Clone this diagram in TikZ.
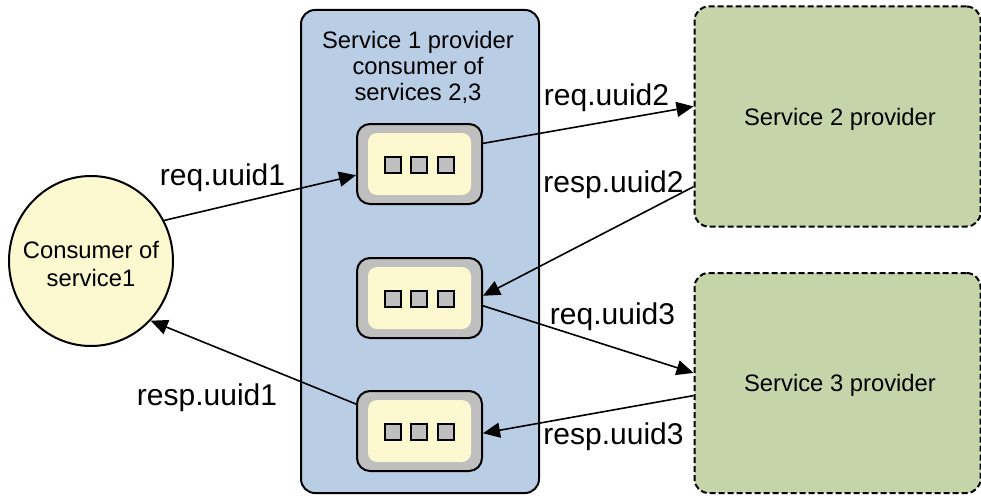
\documentclass[tikz,border=0pt]{standalone}
\usepackage{fontspec}
\setmainfont{Liberation Sans}
\usetikzlibrary{calc,arrows.meta,positioning,shapes.geometric}
\definecolor{provblue}{HTML}{B9CDE5}
\definecolor{provgreen}{HTML}{C5D5A9}
\definecolor{lightyellow}{HTML}{FCF8CF}
\definecolor{queuegray}{HTML}{BFBFBF}
\tikzstyle{flow}=[-{Triangle[length=17pt,width=15pt]},line width=1.6pt]
\tikzstyle{msg}=[inner sep=0,font=\fontsize{30}{33}\selectfont]
\tikzstyle{txt}=[inner sep=0,align=center,font=\fontsize{23.8}{26}\selectfont]
\tikzstyle{remote}=[draw,dash pattern=on 6pt off 3pt,line width=2pt,rounded corners=14pt,fill=provgreen,minimum width=286pt,minimum height=220pt]

\begin{document}
\begin{tikzpicture}[
    x=1pt,y=-1pt,
    queue/.style={draw,line width=2pt,rounded corners=13pt,fill=queuegray,minimum width=125pt,minimum height=80pt},
    slot/.style={rounded corners=9pt,fill=lightyellow,minimum width=103pt,minimum height=62pt},
    cell/.style={draw,line width=2pt,fill=queuegray,inner sep=0,minimum size=16pt}
    ]
    \useasboundingbox (0,0) rectangle (981,495);

    \node [draw,line width=2pt,rounded corners=14pt,fill=provblue,minimum width=238pt,minimum height=483pt] (prov1) at (420,251.5) {};
    \node [txt] (prov1txt) at (418,67) {Service 1 provider\\consumer of\\services 2,3};

    \node [ellipse,draw,line width=2pt,fill=lightyellow,inner sep=0,minimum width=164pt,minimum height=170pt] (cons) at (91,261) {};
    \node [txt] (constxt) at (91,264) {Consumer of\\[2pt]service1};

    \node [remote] (prov2) at (837.5,116.5) {};
    \node [remote] (prov3) at (837.5,383) {};
    \node [txt] (prov2txt) at (840,119) {Service 2 provider};
    \node [txt] (prov3txt) at (840,385) {Service 3 provider};

    % the three queues
    \foreach \i/\y in {1/164,2/298,3/431} {
      \node [queue] (q\i) at (419.5,\y) {};
      \node [slot] (s\i) at (419.5,\y) {};
      \node [cell] (c\i1) at (392.5,\y+1) {};
      \node [cell] (c\i2) at (419,\y+1) {};
      \node [cell] (c\i3) at (445.5,\y+1) {};
    }

    % requests and responses
    \draw [flow] (cons.29) to (q1.190);
    \draw [flow] (q1.18) to (prov2.176.6);
    \draw [flow] (prov2.206.8) to (q2.2);
    \draw [flow] (q2.-7) to (prov3.176.8);
    \draw [flow] (prov3.185.6) to (q3.-2);
    \draw [flow] (q3.157) to (cons.-45);

    \node [msg] (m1) at (222.5,177.5) {req.uuid1};
    \node [msg] (m2) at (606.5,97.5) {req.uuid2};
    \node [msg] (m3) at (613.5,185) {resp.uuid2};
    \node [msg] (m4) at (612.5,316.5) {req.uuid3};
    \node [msg] (m5) at (613.5,436.5) {resp.uuid3};
    \node [msg] (m6) at (207,398) {resp.uuid1};
\end{tikzpicture}
\end{document}
